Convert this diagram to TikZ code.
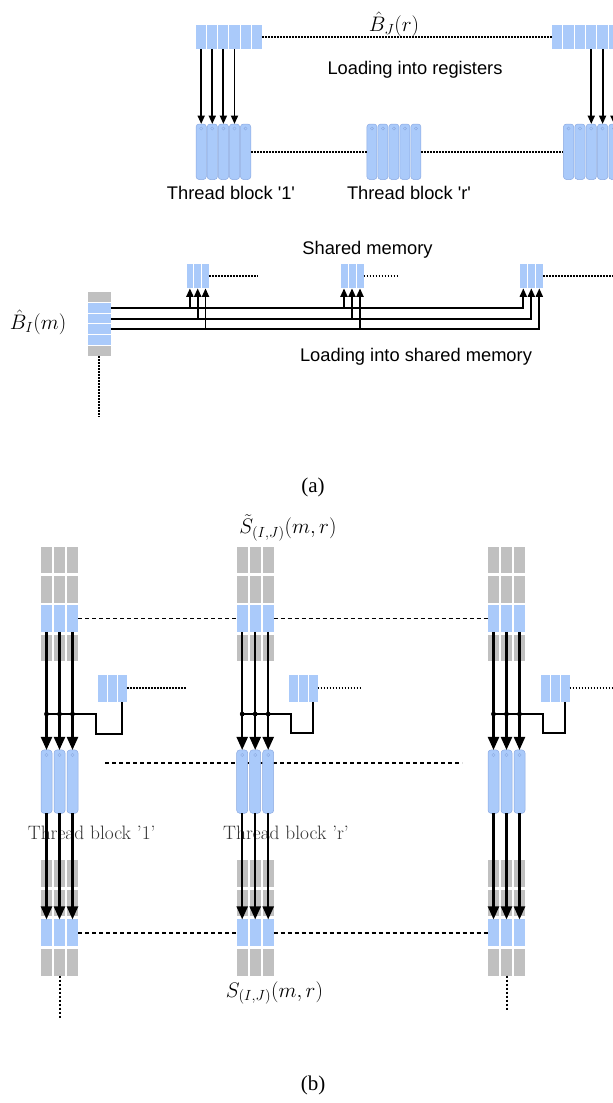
\RequirePackage{fix-cm}
\documentclass[tikz,border=0pt]{standalone}
\usepackage{fontspec}
\usetikzlibrary{arrows.meta}
\newfontfamily\lsans{Liberation Sans}
\newfontfamily\lserif{Liberation Serif}
\definecolor{cblue}{RGB}{170,202,250}
\definecolor{cgray}{RGB}{192,192,192}
\definecolor{cedge}{RGB}{140,170,225}
\begin{document}
\begin{tikzpicture}[x=1pt,y=-1pt,
  cellb/.style={fill=cblue, draw=none, inner sep=0pt, outer sep=0pt},
  cellg/.style={fill=cgray, draw=none, inner sep=0pt, outer sep=0pt},
  thr/.style={fill=cblue, draw=cedge, line width=0.5pt, rounded corners=3pt, inner sep=0pt, outer sep=0pt},
  dotl/.style={line width=1.7pt, dash pattern=on 1.8pt off 1.2pt},
  dotv/.style={line width=2pt, dash pattern=on 2.4pt off 1.6pt},
  dashl/.style={line width=1.7pt, dash pattern=on 4pt off 3pt},
  arrA/.style={line width=1.9pt, -{Triangle[length=8.5pt,width=7pt]}},
  arrB/.style={line width=2.2pt, -{Triangle[length=13pt,width=11pt]}},
  wire/.style={line width=2pt},
  thrc/.style={draw=cedge, line width=0.4pt},
  sanslbl/.style={font=\lsans\fontsize{18.3}{22}\selectfont, inner sep=0pt},
  mathlbl/.style={font=\fontsize{21}{25}\selectfont, inner sep=0pt},
  serlbl/.style={font=\fontsize{19.4}{23}\selectfont, text=black!80, inner sep=0pt},
  caplbl/.style={font=\lserif\fontsize{21}{25}\selectfont, inner sep=0pt}]
\useasboundingbox (0,0) rectangle (613,1103);

% ================= (a) =================
% register rows
\foreach \i in {1,...,6}
  \node[cellb, minimum width=10.1pt, minimum height=24pt] (ra\i) at ({201.2+11.1*(\i-1)},37) {};
\foreach \i in {1,...,7}
  \node[cellb, minimum width=10.3pt, minimum height=24pt] (rb\i) at ({557.3+11.33*(\i-1)},37) {};
% thread blocks
\foreach \i in {1,...,5}
  \node[thr, minimum width=10.3pt, minimum height=55.5pt] (ta\i) at ({201.2+11.1*(\i-1)},151.75) {};
\foreach \i in {1,...,5}
  \node[thr, minimum width=10.1pt, minimum height=55.5pt] (tm\i) at ({371.9+11.0*(\i-1)},151.75) {};
\foreach \i in {1,...,6}
  \node[thr, minimum width=10.3pt, minimum height=55.5pt] (tr\i) at ({568.6+11.33*(\i-1)},151.75) {};
\foreach \n in {ta1,ta2,ta3,ta4,ta5,tm1,tm2,tm3,tm4,tm5,tr1,tr2,tr3,tr4,tr5,tr6}
  \draw[thrc] (\n.north) ++(0,4.5) circle (1.6pt);

\draw[dotl] (ra6.east) -- (rb1.west);
\draw[dotl] (ta5.east) -- (tm1.west);
\draw[dotl] (tm5.east) -- (tr1.west);

\foreach \i in {1,...,4}
  \draw[arrA] (ra\i.south) -- (ra\i.south |- ta\i.north);
\foreach \i/\j in {4/3,5/4,6/5,7/6}
  \draw[arrA] (rb\i.south) -- (rb\i.south |- tr\j.north);

\node[mathlbl] (bj) at (394,24) {$\hat{B}_{J}(r)$};
\node[sanslbl] (lr) at (415,70) {Loading into registers};
\node[sanslbl] (tb1) at (231,193) {Thread block \textquotesingle 1\textquotesingle};
\node[sanslbl] (tbr) at (409,193) {Thread block \textquotesingle r\textquotesingle};

% shared memory
\node[sanslbl] (sm) at (367.5,250) {Shared memory};
\foreach \i in {1,2,3} {
  \node[cellb, minimum width=6.8pt, minimum height=24pt] (sa\i) at ({189.9+7.8*(\i-1)},276.3) {};
  \node[cellb, minimum width=7pt, minimum height=24pt] (sb\i) at ({344+8*(\i-1)},276.3) {};
  \node[cellb, minimum width=7pt, minimum height=24pt] (sc\i) at ({523.3+8*(\i-1)},276.3) {};
}
\coordinate (sae) at (257.3,276.3);
\coordinate (sbe) at (398.3,276.3);
\coordinate (sce) at (625,276.3);
\draw[dotl] (sa3.east) -- (sae);
\draw[dotl] (sb3.east) -- (sbe);
\draw[dotl] (sc3.east) -- (sce);

\foreach \i/\c in {1/cgray,2/cblue,3/cblue,4/cblue,5/cblue,6/cgray}
  \node[fill=\c, minimum width=23.3pt, minimum height=9.8pt, inner sep=0pt, outer sep=0pt] (bi\i) at (99.3,{296.9+10.83*(\i-1)}) {};
\coordinate (bie) at (99.3,416.7);
\draw[dotl] (bi6.south) -- (bie);

\foreach \k/\b in {1/2,2/3,3/4} {
  \draw[arrA] (bi\b.east) -| (sc\k.south);
  \draw[arrA] (sa\k.south |- bi\b.east) -- (sa\k.south);
  \draw[arrA] (sb\k.south |- bi\b.east) -- (sb\k.south);
}

\node[mathlbl] (bim) at (38,322) {$\hat{B}_{I}(m)$};
\node[sanslbl] (lsm) at (416,357) {Loading into shared memory};
\node[caplbl] (capa) at (313,487) {(a)};

% ================= (b) =================
\coordinate (dm1) at (105,763);
\coordinate (dm2) at (462,763);
\draw[dashl] (dm1) -- (dm2);

\foreach \g/\xo/\sx/\tx/\de/\ky in {1/41/97.7/96/185.7/734, 2/236.7/288.3/291/360.7/733.3, 3/488/540.3/543/625/733.3} {
  \coordinate (j\g) at (\tx,714);
  \coordinate (k\g) at (\tx,\ky);
  \coordinate (de\g) at (\de,688.3);
  \foreach \c in {1,2,3} {
    \pgfmathsetmacro\cx{\xo+13*(\c-1)+5.5}
    \foreach \r/\col in {1/cgray,2/cgray,3/cblue,4/cgray} {
      \node[fill=\col, minimum width=11pt, minimum height=26.6pt, inner sep=0pt, outer sep=0pt] (u\g\c\r) at (\cx,{559.8+29.4*(\r-1)}) {};
      \node[fill=\col, minimum width=11pt, minimum height=26.6pt, inner sep=0pt, outer sep=0pt] (l\g\c\r) at (\cx,{873.3+29.7*(\r-1)}) {};
    }
    \node[thr, minimum width=11pt, minimum height=63.3pt] (t\g\c) at (\cx,781.6) {};
    \draw[thrc] (t\g\c.north) ++(0,5) circle (1.6pt);
    \node[cellb, minimum width=9pt, minimum height=26.5pt] (s\g\c) at ({\sx+9.9*(\c-1)+4.95},688.3) {};
  }
  \draw[dotl] (s\g3.east) -- (de\g);
}

\draw[dashl] (u133.east) -- (u213.west);
\draw[dashl] (u233.east) -- (u313.west);
\draw[dashl] (l133.east) -- (l213.west);
\draw[dashl] (l233.east) -- (l313.west);

\coordinate (dv1) at (59.5,1018);
\coordinate (dv3) at (506.5,1010);
\draw[dotv] (l124.south) -- (dv1);
\draw[dotv] (l324.south) -- (dv3);

\node[serlbl] (tb1b) at (91.7,833) {Thread block '1'};
\node[serlbl] (tbrb) at (286,833) {Thread block 'r'};
\node[mathlbl] (st) at (288,528) {$\tilde{S}_{(I,J)}(m,r)$};
\node[mathlbl] (sb) at (274.5,993) {$S_{(I,J)}(m,r)$};

\foreach \g in {1,2,3} {
  \foreach \c in {1,2,3} {
    \draw[arrB] (u\g\c3.south) -- (t\g\c.north);
    \draw[arrB] (t\g\c.south) -- (l\g\c3.north);
    \fill (u\g\c3.south |- j\g) circle (2.4pt);
  }
  \draw[wire] (u\g13.south |- j\g) -- (j\g) -- (k\g) -| (s\g3.south);
}

\node[caplbl] (capb) at (313,1085) {(b)};
\end{tikzpicture}
\end{document}
